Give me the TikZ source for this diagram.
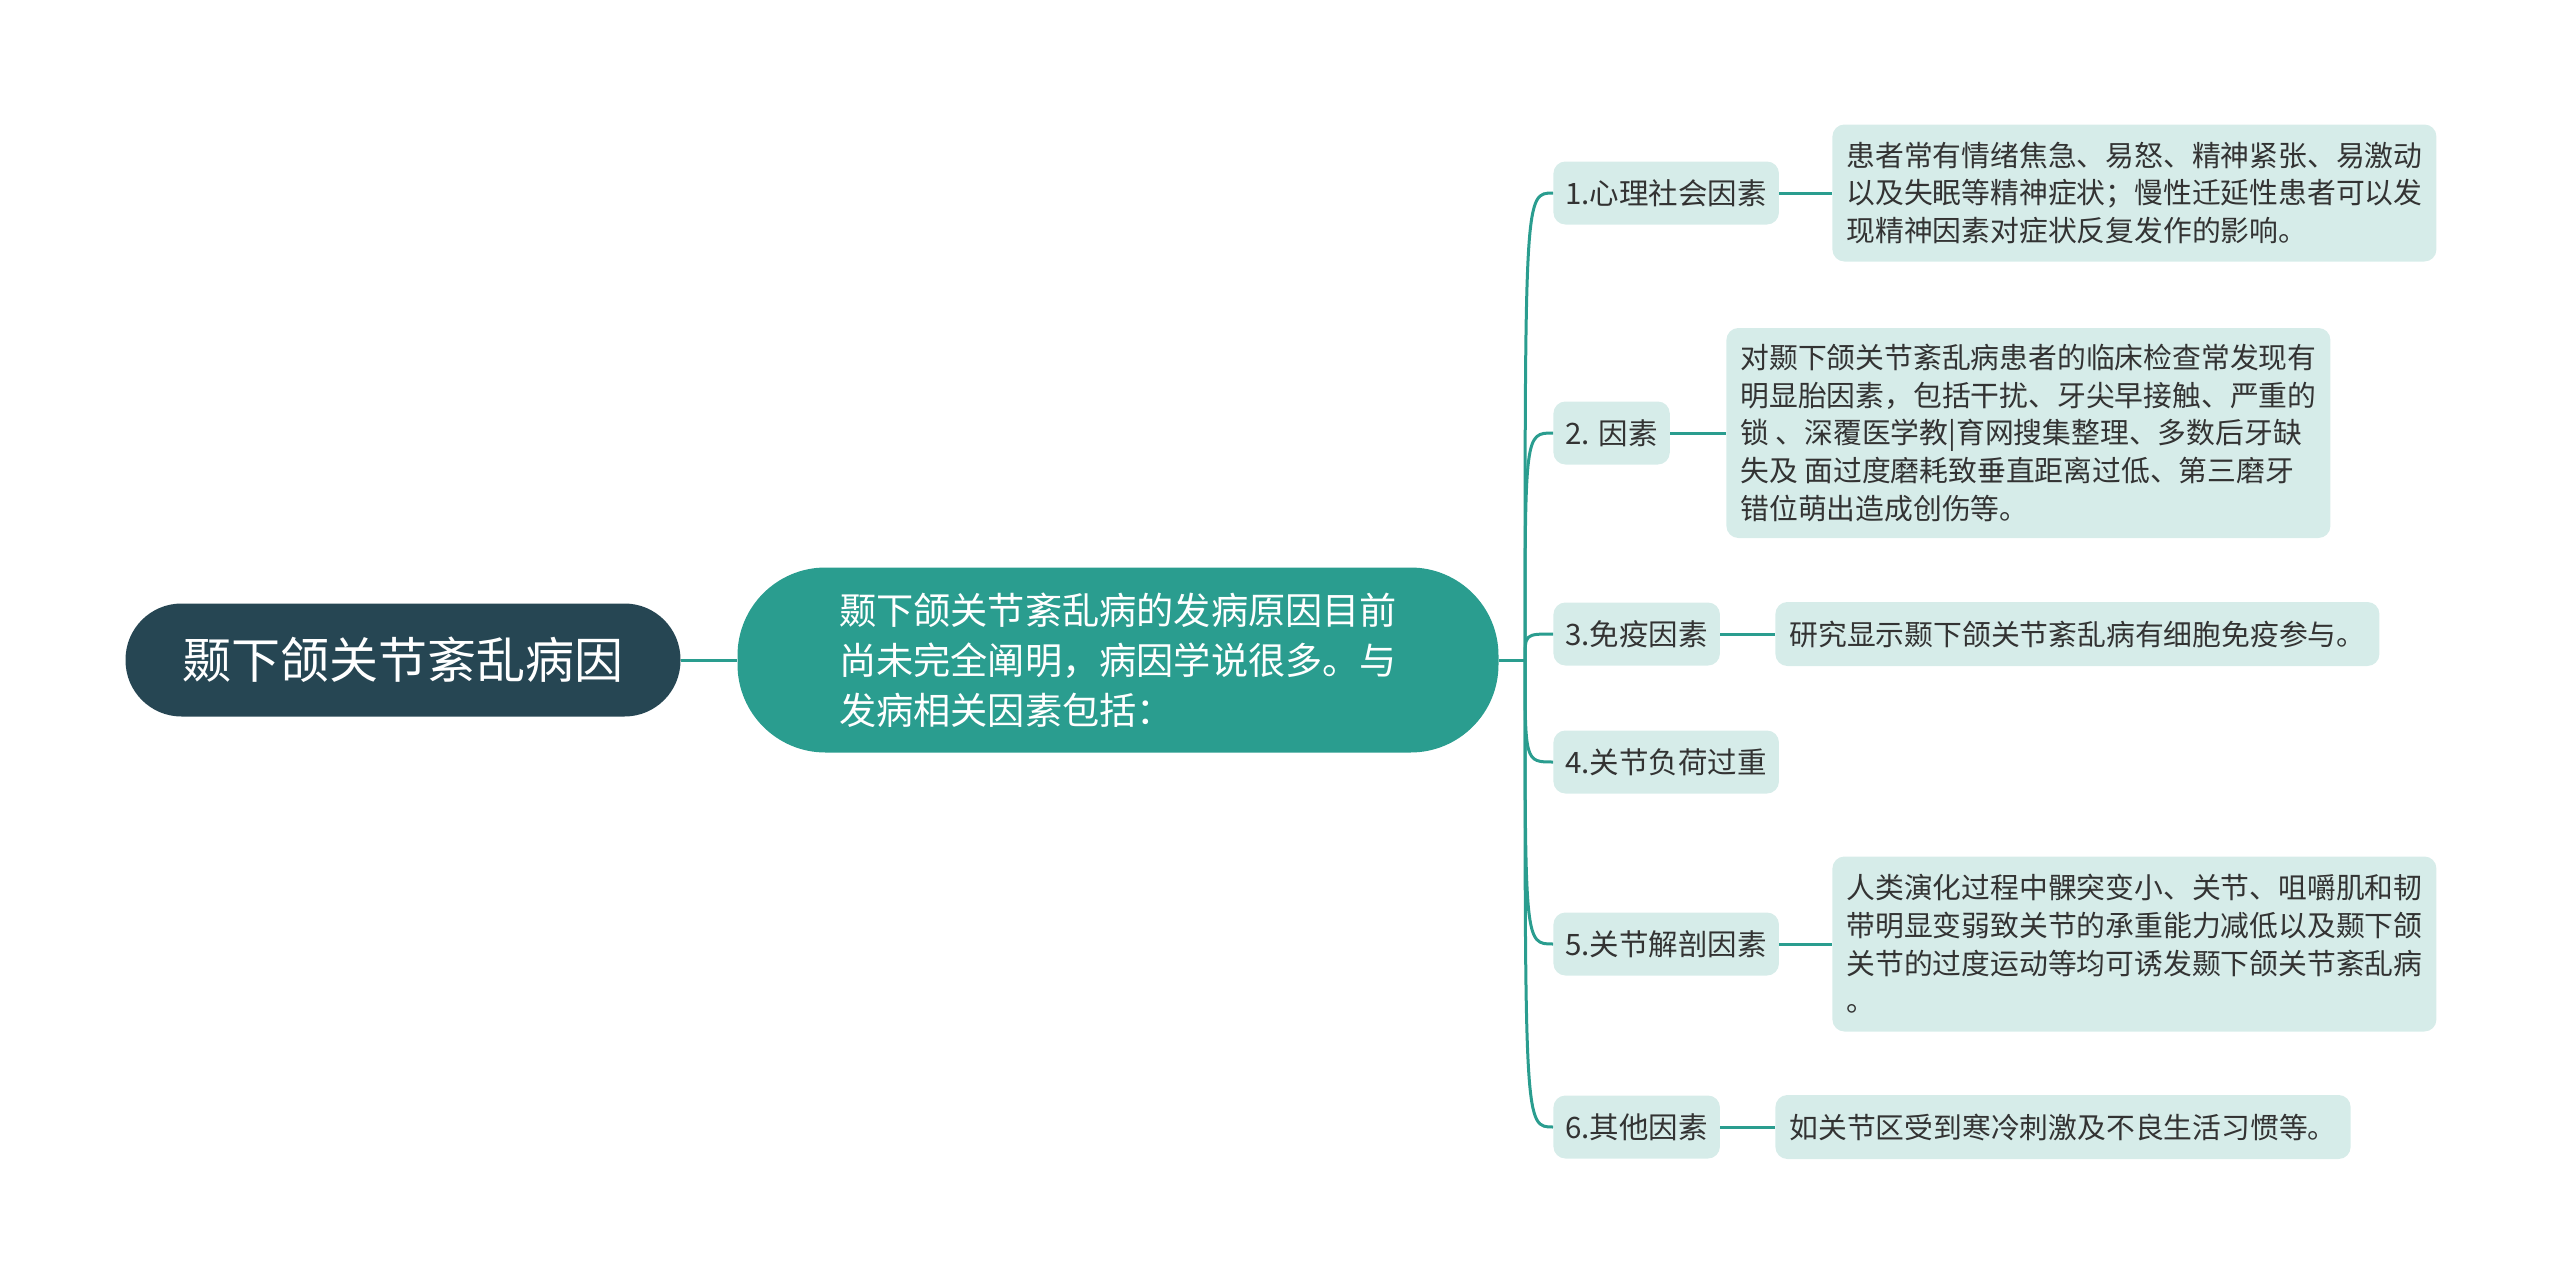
\documentclass[tikz,border=0pt]{standalone}
\usepackage{fontspec}
\setmainfont{Noto Sans CJK SC}
\usetikzlibrary{positioning}

\definecolor{rootfill}{HTML}{264653}
\definecolor{branchcol}{HTML}{2A9D8F}
\definecolor{notefill}{HTML}{D6ECE9}
\definecolor{textcol}{HTML}{333333}

\tikzset{
  rootbox/.style={fill=rootfill, text=white, rounded corners=28pt,
    minimum width=277.5pt, minimum height=56.5pt,
    font=\fontsize{24.5}{30}\selectfont},
  mainbox/.style={fill=branchcol, text=white, rounded corners=44pt,
    minimum width=380.5pt, minimum height=92.5pt, align=left,
    font=\fontsize{18.6}{25}\selectfont},
  factorbox/.style={fill=notefill, text=textcol, rounded corners=6pt,
    anchor=west, minimum height=31.5pt, inner xsep=6pt,
    font=\fontsize{14.75}{18}\selectfont},
  notebox/.style={fill=notefill, text=textcol, rounded corners=6pt,
    anchor=west, inner xsep=7pt, align=left,
    font=\fontsize{14.4}{18.8}\selectfont},
  branch/.style={draw=branchcol, line width=1.5pt},
}

\begin{document}
\begin{tikzpicture}[x=0.5pt,y=-0.5pt] % mind map, 1 unit = 1 px
        \useasboundingbox (0,0) rectangle (2560,1285);
        % centre and first level
        \node[rootbox] (root) at (403,660) {颞下颌关节紊乱病因};
        \node[mainbox] (main) at (1118,660) {颞下颌关节紊乱病的发病原因目前\\尚未完全阐明，病因学说很多。与\\发病相关因素包括：};
        \coordinate (hub) at (1525,660);
        % factors
        \node[factorbox] (f1) at (1553,193) {1.心理社会因素};
        \node[factorbox] (f2) at (1553,433) {2. 因素};
        \node[factorbox] (f3) at (1553,634) {3.免疫因素};
        \node[factorbox] (f4) at (1553,762) {4.关节负荷过重};
        \node[factorbox] (f5) at (1553,944) {5.关节解剖因素};
        \node[factorbox] (f6) at (1553,1127) {6.其他因素};
        % notes
        \node[notebox,minimum height=68.5pt] (n1) at (1832,193) {患者常有情绪焦急、易怒、精神紧张、易激动\\以及失眠等精神症状；慢性迁延性患者可以发\\现精神因素对症状反复发作的影响。};
        \node[notebox,minimum height=105pt] (n2) at (1726,433) {对颞下颌关节紊乱病患者的临床检查常发现有\\明显胎因素，包括干扰、牙尖早接触、严重的\\锁 、深覆医学教|育网搜集整理、多数后牙缺\\失及 面过度磨耗致垂直距离过低、第三磨牙\\错位萌出造成创伤等。};
        \node[notebox,minimum height=32pt] (n3) at (1775,634) {研究显示颞下颌关节紊乱病有细胞免疫参与。};
        \node[notebox,minimum height=87.5pt] (n5) at (1832,944) {人类演化过程中髁突变小、关节、咀嚼肌和韧\\带明显变弱致关节的承重能力减低以及颞下颌\\关节的过度运动等均可诱发颞下颌关节紊乱病\\。};
        \node[notebox,minimum height=32pt] (n6) at (1775,1127) {如关节区受到寒冷刺激及不良生活习惯等。};
        % connectors
        \draw[branch] (root) -- (main);
        \draw[branch] (main.east) -- (hub);
        \foreach \f in {f1,f2,f3,f4,f5,f6}
                \draw[branch] (hub) .. controls (hub |- \f.west) .. (\f.west);
        \draw[branch] (f1) -- (n1);
        \draw[branch] (f2) -- (n2);
        \draw[branch] (f3) -- (n3);
        \draw[branch] (f5) -- (n5);
        \draw[branch] (f6) -- (n6);
\end{tikzpicture}
\end{document}
